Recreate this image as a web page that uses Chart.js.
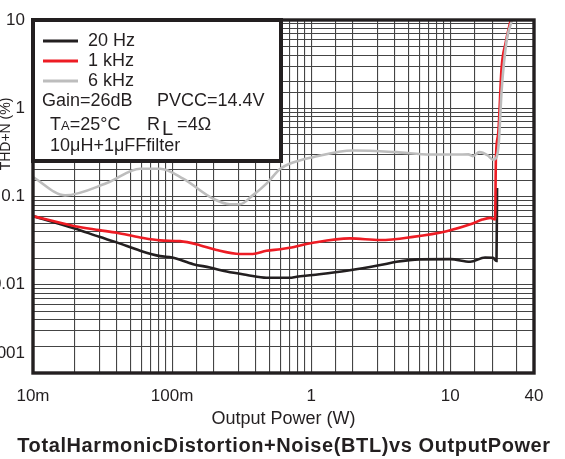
<!DOCTYPE html>
<html>
<head>
<meta charset="utf-8">
<script src="https://cdn.jsdelivr.net/npm/chart.js@4.4.1/dist/chart.umd.min.js"></script>
<style>
  html, body { margin: 0; padding: 0; background: #fff; }
  #thdChart { display: block; }
</style>
</head>
<body>
<canvas id="thdChart" width="565" height="459"></canvas>
<script>
// series: output power (W) and THD+N (%)
const seriesNames = ['20 Hz', '1 kHz', '6 kHz'];
const seriesColors = ['#231f20', '#ed1c24', '#bdbdbd'];

const power20Hz = [0.01, 0.02, 0.03, 0.04, 0.059, 0.082, 0.1, 0.142, 0.187, 0.247, 0.345, 0.477, 0.6, 0.7, 0.786, 1.03, 1.8, 3.14, 4.1, 6.0, 10, 13.9, 17.8, 20.3, 21.5, 21.7];
const thd20Hz = [0.060, 0.0434, 0.0349, 0.0302, 0.0243, 0.0211, 0.0204, 0.0171, 0.0157, 0.0141, 0.0129, 0.0120, 0.0120, 0.0120, 0.0123, 0.0129, 0.0144, 0.0167, 0.0182, 0.0194, 0.0195, 0.0182, 0.0204, 0.0202, 0.0186, 0.125];

const power1kHz = [0.01, 0.02, 0.03, 0.04, 0.059, 0.082, 0.114, 0.158, 0.209, 0.307, 0.38, 0.477, 0.6, 0.7, 1.03, 1.9, 3.14, 5.4, 9.4, 14.5, 17.0, 19.4, 21.0, 21.3, 22.1, 23.4, 25.0, 27.2];
const thd1kHz = [0.060, 0.0461, 0.0416, 0.0388, 0.0343, 0.0318, 0.0312, 0.0281, 0.0247, 0.0223, 0.0223, 0.0243, 0.0252, 0.0262, 0.0299, 0.0335, 0.0321, 0.0349, 0.0405, 0.0494, 0.0548, 0.0573, 0.0548, 0.279, 0.513, 2.9, 5.5, 10];

const power6kHz = [0.01, 0.017, 0.034, 0.059, 0.082, 0.12, 0.197, 0.26, 0.307, 0.38, 0.477, 0.6, 0.7, 1.03, 2.0, 4.1, 7.2, 11.1, 13.5, 14.5, 16.2, 18.6, 20.3, 21.5, 22.3, 23.4, 25.4, 27.8];
const thd6kHz = [0.166, 0.103, 0.142, 0.206, 0.206, 0.159, 0.0946, 0.0817, 0.0817, 0.103, 0.140, 0.206, 0.235, 0.279, 0.332, 0.318, 0.299, 0.299, 0.30, 0.287, 0.318, 0.292, 0.261, 0.279, 0.395, 1.58, 5.8, 10];

const xTickValues = [0.01, 0.1, 1, 10, 40];
const xTickLabels = ['10m', '100m', '1', '10', '40'];
const yTickValues = [10, 1, 0.1, 0.01];
const yTickLabels = ['10', '1', '0.1', '0.01'];
const yBottomLabel = '0.001';

const infoLines = ['Gain=26dB', 'PVCC=14.4V', '10\u03bcH+1\u03bcFFfilter'];
const chartTitle = 'TotalHarmonicDistortion+Noise(BTL)vs OutputPower';
const xTitle = 'Output Power (W)';
const yTitle = 'THD+N (%)';

const FONT = '"Liberation Sans", Arial, Helvetica, sans-serif';
const INK = '#231f20';

function toPoints(xs, ys) {
    return xs.map((x, i) => ({ x: x, y: ys[i] }));
}

function labelFor(value, values, labels) {
    for (let i = 0; i < values.length; i++) {
        if (Math.abs(Math.log10(value) - Math.log10(values[i])) < 1e-6) return labels[i];
    }
    return '';
}

const decorations = {
    id: 'decorations',
    afterDatasetsDraw(chart) {
        const ctx = chart.ctx;
        const a = chart.chartArea;
        const ds = chart.data.datasets;
        ctx.save();
        // legend / conditions box
        ctx.fillStyle = '#fff';
        ctx.fillRect(a.left, a.top, 250, 143);
        ctx.lineWidth = 4;
        ctx.strokeStyle = INK;
        ctx.strokeRect(a.left, a.top, 248, 141);

        ctx.lineWidth = 3;
        ctx.font = '18px ' + FONT;
        ctx.textBaseline = 'middle';
        ctx.textAlign = 'left';
        for (let i = 0; i < ds.length; i++) {
            const y = a.top + 21 + i * 20;
            ctx.strokeStyle = ds[i].borderColor;
            ctx.beginPath();
            ctx.moveTo(a.left + 10, y);
            ctx.lineTo(a.left + 45, y);
            ctx.stroke();
            ctx.fillStyle = INK;
            ctx.fillText(ds[i].label, a.left + 55, y);
        }
        ctx.fillStyle = INK;
        ctx.fillText(infoLines[0], a.left + 9, a.top + 81);
        ctx.fillText(infoLines[1], a.left + 124, a.top + 81);

        // TA=25°C   RL =4Ω
        let x = a.left + 17;
        const yb = a.top + 110;
        ctx.textBaseline = 'alphabetic';
        ctx.fillText('T', x, yb);
        x += ctx.measureText('T').width;
        ctx.font = '13px ' + FONT;
        ctx.fillText('A', x, yb);
        x += ctx.measureText('A').width;
        ctx.font = '18px ' + FONT;
        ctx.fillText('=25\u00b0C', x, yb);
        x = a.left + 114;
        ctx.fillText('R', x, yb);
        x += ctx.measureText('R').width + 2;
        ctx.font = '20px ' + FONT;
        ctx.fillText('L', x, yb + 5);
        x += ctx.measureText('L').width + 4;
        ctx.font = '18px ' + FONT;
        ctx.fillText('=4\u03a9', x, yb);

        ctx.textBaseline = 'middle';
        ctx.fillText(infoLines[2], a.left + 17, a.top + 126);
        ctx.restore();
    },
    afterDraw(chart) {
        const ctx = chart.ctx;
        const a = chart.chartArea;
        ctx.save();
        // plot frame
        ctx.lineWidth = 3.4;
        ctx.strokeStyle = INK;
        ctx.strokeRect(a.left, a.top, a.right - a.left, a.bottom - a.top);

        // bottom y label sits a little above the axis end in the original
        const yScale = chart.scales.y;
        ctx.fillStyle = INK;
        ctx.font = '17px ' + FONT;
        ctx.textAlign = 'right';
        ctx.textBaseline = 'middle';
        ctx.fillText(yBottomLabel, a.left - 8, yScale.getPixelForValue(0.001) - 20);

        // rotated y title
        ctx.save();
        ctx.translate(10, 134);
        ctx.rotate(-Math.PI / 2);
        ctx.font = '14px ' + FONT;
        ctx.textAlign = 'center';
        ctx.textBaseline = 'alphabetic';
        ctx.fillText(yTitle, 0, 0);
        ctx.restore();

        // chart caption
        ctx.font = 'bold 20px ' + FONT;
        ctx.letterSpacing = '0.6px';
        ctx.textAlign = 'center';
        ctx.textBaseline = 'middle';
        ctx.fillText(chartTitle, 284, 446);
        ctx.restore();
    }
};

const ctx = document.getElementById('thdChart').getContext('2d');
const thdChart = new Chart(ctx, {
    type: 'line',
    data: {
        datasets: [
            { label: seriesNames[0], data: toPoints(power20Hz, thd20Hz), borderColor: seriesColors[0], order: 2 },
            { label: seriesNames[1], data: toPoints(power1kHz, thd1kHz), borderColor: seriesColors[1], order: 1 },
            { label: seriesNames[2], data: toPoints(power6kHz, thd6kHz), borderColor: seriesColors[2], order: 0 }
        ]
    },
    options: {
        responsive: false,
        animation: false,
        events: [],
        devicePixelRatio: 1,
        layout: { padding: { top: 20, right: 31, bottom: 25, left: 0 } },
        elements: {
            line: { borderWidth: 2.6, fill: false, cubicInterpolationMode: 'monotone' },
            point: { radius: 0 }
        },
        plugins: {
            legend: { display: false },
            title: { display: false },
            tooltip: { enabled: false }
        },
        scales: {
            x: {
                type: 'logarithmic',
                min: 0.01,
                max: 40,
                afterFit: (s) => { s.height = 61; },
                border: { display: false },
                grid: { color: '#444', lineWidth: 1.1, drawTicks: false },
                ticks: {
                    autoSkip: false,
                    maxRotation: 0,
                    padding: 13,
                    color: INK,
                    font: { family: FONT, size: 17 },
                    callback: (v) => labelFor(v, xTickValues, xTickLabels)
                },
                title: {
                    display: true,
                    text: xTitle,
                    color: INK,
                    font: { family: FONT, size: 18 },
                    padding: { top: 0, bottom: 4 }
                }
            },
            y: {
                type: 'logarithmic',
                min: 0.001,
                max: 10,
                afterFit: (s) => { s.width = 33; },
                border: { display: false },
                grid: { color: '#444', lineWidth: 1.1, drawTicks: false },
                ticks: {
                    autoSkip: false,
                    padding: 8,
                    color: INK,
                    font: { family: FONT, size: 17 },
                    callback: (v) => labelFor(v, yTickValues, yTickLabels)
                }
            }
        }
    },
    plugins: [decorations]
});
</script>
</body>
</html>
